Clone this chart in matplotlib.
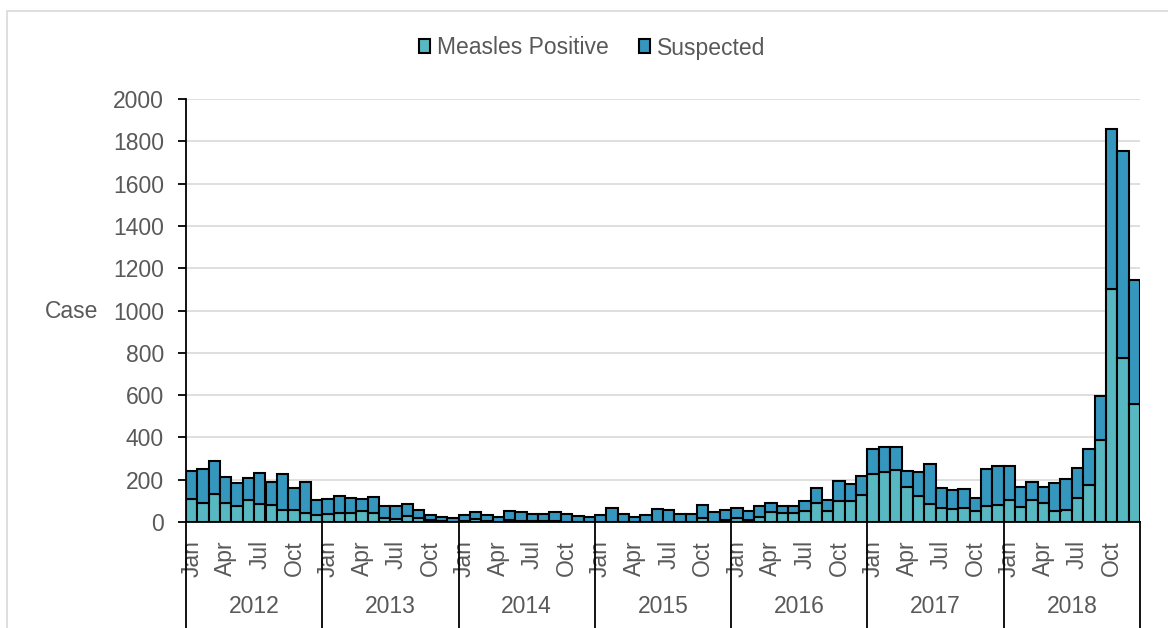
import matplotlib
matplotlib.use("Agg")
import matplotlib.pyplot as plt
import matplotlib.transforms as mtransforms
from matplotlib.patches import Rectangle
import numpy as np

plt.rcParams["font.family"] = ["Liberation Sans", "DejaVu Sans"]

years = ["2012", "2013", "2014", "2015", "2016", "2017", "2018"]
months = ["Jan", "Feb", "Mar", "Apr", "May", "Jun", "Jul", "Aug", "Sep", "Oct", "Nov", "Dec"]
shown_months = ["Jan", "Apr", "Jul", "Oct"]

# monthly cases, Jan 2012 .. Dec 2018
positive = [
    107, 88, 132, 92, 78, 103, 84, 81, 56, 56, 41, 35,
    40, 42, 42, 54, 44, 20, 15, 27, 19, 8, 4, 2,
    5, 12, 4, 2, 8, 3, 4, 5, 3, 2, 1, 1,
    2, 2, 1, 1, 1, 1, 1, 1, 1, 20, 2, 8,
    20, 11, 24, 49, 43, 43, 51, 90, 52, 100, 97, 127,
    229, 237, 245, 166, 122, 84, 68, 62, 65, 52, 78, 80,
    102, 73, 104, 88, 51, 56, 112, 177, 389, 1104, 775, 559,
]
suspected = [
    136, 162, 156, 122, 105, 107, 148, 107, 170, 104, 148, 70,
    71, 82, 71, 56, 73, 57, 60, 56, 38, 27, 20, 15,
    30, 36, 31, 21, 45, 44, 33, 32, 42, 35, 28, 21,
    33, 62, 37, 21, 33, 59, 56, 38, 38, 62, 45, 48,
    45, 40, 54, 43, 31, 35, 46, 70, 51, 93, 85, 90,
    117, 118, 109, 73, 115, 189, 95, 90, 92, 62, 172, 184,
    163, 94, 84, 76, 132, 148, 145, 168, 206, 753, 981, 586,
]

c_pos = "#58B8C2"
c_sus = "#3596BE"
txt = "#595959"
grid = "#D9D9D9"
fs = 16.5

fig = plt.figure(figsize=(11.68, 6.28), dpi=100)
ax = fig.add_axes([186 / 1168, 1 - 522 / 628, (1140 - 186) / 1168, (522 - 99) / 628])

x = np.arange(len(positive))
ax.bar(x, positive, width=1.0, color=c_pos, edgecolor="black", linewidth=1.5,
       label="Measles Positive", zorder=3)
ax.bar(x, suspected, width=1.0, bottom=positive, color=c_sus, edgecolor="black",
       linewidth=1.5, label="Suspected", zorder=3)

ax.set_xlim(-0.5, len(positive) - 0.5)
ax.set_ylim(0, 2000)
ax.set_yticks(range(0, 2001, 200))
ax.yaxis.grid(True, color=grid, linewidth=1.2, zorder=0)
ax.set_axisbelow(True)
for s in ["top", "right"]:
    ax.spines[s].set_visible(False)
ax.spines["left"].set_linewidth(1.3)
ax.spines["bottom"].set_linewidth(1.3)
ax.tick_params(axis="y", length=6, width=1.3, pad=10, labelsize=fs, labelcolor=txt)

# month tick labels
ticks, labels = [], []
for yi in range(len(years)):
    for mi, m in enumerate(months):
        if m in shown_months:
            ticks.append(yi * 12 + mi)
            labels.append(m)
ax.set_xticks(ticks)
ax.set_xticklabels(labels, rotation=90, fontsize=fs, color=txt, va="top", ha="center")
ax.tick_params(axis="x", length=0, pad=13)

# year separators and labels
trans = mtransforms.blended_transform_factory(ax.transData, ax.transAxes)
for yi in range(len(years) + 1):
    ax.plot([yi * 12 - 0.5] * 2, [0, -0.26], color="black", linewidth=1.3,
            transform=trans, clip_on=False)
for yi, yr in enumerate(years):
    ax.text(yi * 12 + 5.5, -0.199, yr, transform=trans, ha="center", va="center",
            fontsize=fs, color=txt)

fig.text(72 / 1168, 1 - 312 / 628, "Case", ha="center", va="center", fontsize=fs, color=txt)

fig.legend(loc="center", bbox_to_anchor=(592 / 1168, 1 - 48 / 628), ncol=2, frameon=False,
           fontsize=fs, labelcolor=txt, handlelength=0.5, handleheight=0.55,
           handletextpad=0.3, columnspacing=1.3)

fig.add_artist(Rectangle((7 / 1168, -0.2), 1.2, 1.2 - 11 / 628, transform=fig.transFigure,
                         fill=False, edgecolor=grid, linewidth=1.2))

fig.savefig("out.png", dpi=100)
